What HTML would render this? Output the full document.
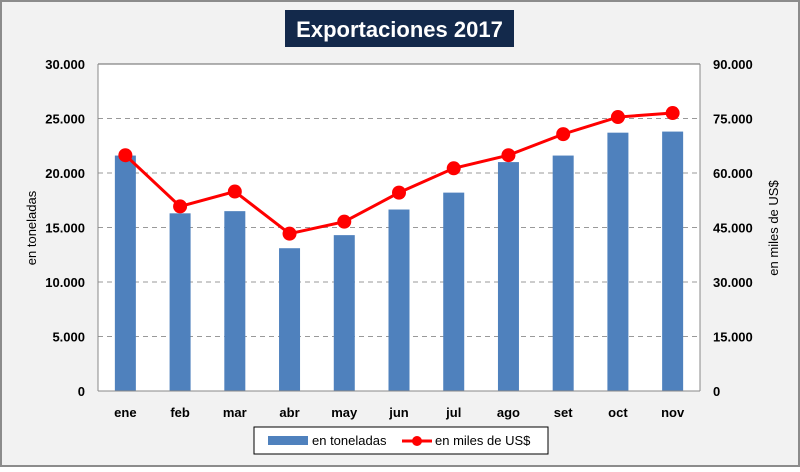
<!DOCTYPE html>
<html><head><meta charset="utf-8"><style>
body{margin:0;background:#fff;font-family:"Liberation Sans",Arial,sans-serif}
svg text{font-family:"Liberation Sans",Arial,sans-serif}
</style></head><body>
<svg id="c" width="800" height="467" xmlns="http://www.w3.org/2000/svg">
<rect x="1" y="1" width="798" height="465" fill="#f2f2f2" stroke="#8c8c8c" stroke-width="2"/>
<rect x="285" y="10" width="229" height="37" fill="#13294b"/>
<text x="399.5" y="37" text-anchor="middle" fill="#fff" font-size="22" font-weight="bold">Exportaciones 2017</text>
<rect x="98" y="64" width="602" height="327" fill="#fff"/>
<g id="grid"></g><g id="bars"></g><g id="line"></g><g id="axes"></g>
<text transform="translate(36,228) rotate(-90)" text-anchor="middle" font-size="13">en toneladas</text>
<text transform="translate(778,228) rotate(-90)" text-anchor="middle" font-size="13">en miles de US$</text>
<g>
<rect x="254" y="427" width="294" height="27" fill="#fff" stroke="#000" stroke-width="1"/>
<rect x="268" y="436" width="40" height="9" fill="#4f81bd"/>
<text x="312" y="445" font-size="13">en toneladas</text>
<line x1="402" y1="441" x2="432" y2="441" stroke="#f00" stroke-width="3"/>
<circle cx="417" cy="441" r="5" fill="#f00"/>
<text x="435" y="445" font-size="13">en miles de US$</text>
</g>
</svg>
<script>
const categories=["ene","feb","mar","abr","may","jun","jul","ago","set","oct","nov"];
const toneladas=[21600,16300,16500,13100,14300,16650,18200,21000,21600,23700,23800];
const milesUSD=[64900,50800,54900,43300,46600,54600,61300,64900,70700,75400,76500];
const leftTicks=[0,5000,10000,15000,20000,25000,30000];
const rightTicks=[0,15000,30000,45000,60000,75000,90000];
const NS="http://www.w3.org/2000/svg";
const X0=98,X1=700,Y0=391,Y1=64;
const band=(X1-X0)/categories.length;
const xc=i=>X0+band*(i+0.5);
const yL=v=>Y0-(v/30000)*(Y0-Y1);
const yR=v=>Y0-(v/90000)*(Y0-Y1);
const fmt=v=>v===0?"0":v.toLocaleString("de-DE");
function mk(t,a,p){const e=document.createElementNS(NS,t);for(const k in a)e.setAttribute(k,a[k]);p.appendChild(e);return e;}
const grid=document.getElementById("grid"),bars=document.getElementById("bars"),line=document.getElementById("line"),axes=document.getElementById("axes");
leftTicks.forEach((v,i)=>{const y=yL(v);
 if(v>0&&v<30000){const g=mk("line",{x1:X0,x2:X1,y1:y,y2:y,stroke:"#999","stroke-dasharray":"5,4","stroke-width":1},grid);
 
 }
 const t=mk("text",{x:X0-13,y:y+5,"text-anchor":"end","font-size":"13","font-weight":"bold"},axes);t.textContent=fmt(v);
 
 
});
rightTicks.forEach(v=>{const y=yR(v);
 const t=mk("text",{x:X1+13,y:y+5,"font-size":"13","font-weight":"bold"},axes);t.textContent=fmt(v);
 
 
});
mk("line",{x1:X0,x2:X1,y1:Y1,y2:Y1,stroke:"#666"},axes);
mk("line",{x1:X0,x2:X0,y1:Y1,y2:Y0,stroke:"#888"},axes);
mk("line",{x1:X1,x2:X1,y1:Y1,y2:Y0,stroke:"#888"},axes);
mk("line",{x1:X0,x2:X1,y1:Y0,y2:Y0,stroke:"#888"},axes);
categories.forEach((c,i)=>{
 const b=mk("rect",{x:xc(i)-10.5,y:yL(toneladas[i]),width:21,height:Y0-yL(toneladas[i]),fill:"#4f81bd"},bars);
 
 
 const t=mk("text",{x:xc(i),y:Y0+26,"text-anchor":"middle","font-size":"13","font-weight":"bold"},axes);t.textContent=c;
 
 
});
const pl=mk("polyline",{points:milesUSD.map((v,i)=>xc(i)+","+yR(v)).join(" "),fill:"none",stroke:"#f00","stroke-width":3},line);


milesUSD.forEach((v,i)=>{const p=mk("circle",{cx:xc(i),cy:yR(v),r:7,fill:"#f00"},line);
 
 });
</script>
</body></html>
